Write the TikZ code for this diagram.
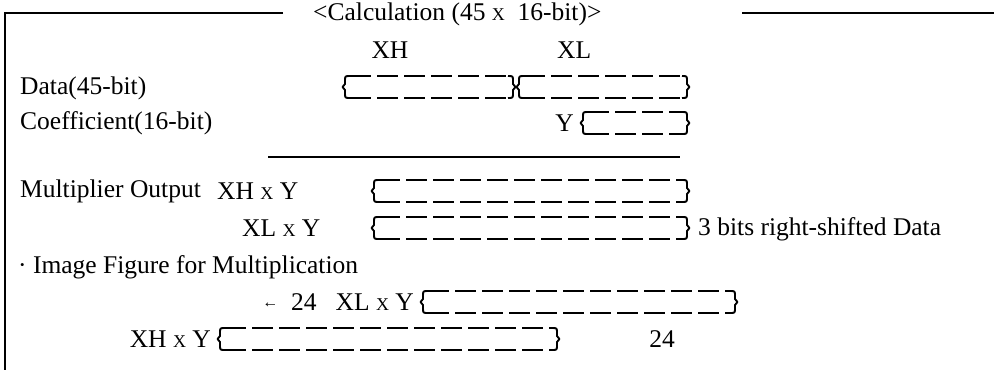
\documentclass[tikz,border=0pt]{standalone}
\usepackage{fontspec}
\setmainfont{Liberation Serif}

\begin{document}
\begin{tikzpicture}[
  x=1pt, y=-1pt,
  bitline/.style={line width=1.9pt, dash pattern=on 21pt off 6pt},
  bitend/.style={line width=1.9pt, line join=round},
  rule/.style={line width=1.4pt},
  frame/.style={line width=2.4pt},
  every node/.style={font=\fontsize{25.5}{28}\selectfont, inner sep=0pt}
]
\useasboundingbox (0,0) rectangle (994,370);

% Parameters
\def\hb{11}   % half height of a bit box
\def\tms{{\fontsize{18}{18}\selectfont X}}
% bit box: left x, right x, centre y
\def\bitbox#1#2#3{%
  \draw[bitline] (#1+6,#3-\hb) -- (#2-6,#3-\hb);
  \draw[bitline] (#1+6,#3+\hb) -- (#2-6,#3+\hb);
  \draw[bitend] (#1+6,#3-\hb) .. controls (#1+1,#3-\hb) .. (#1+1,#3-\hb+5)
    -- (#1+1,#3-3) -- (#1-1.5,#3) -- (#1+1,#3+3) -- (#1+1,#3+\hb-5)
    .. controls (#1+1,#3+\hb) .. (#1+6,#3+\hb);
  \draw[bitend] (#2-6,#3-\hb) .. controls (#2-1,#3-\hb) .. (#2-1,#3-\hb+5)
    -- (#2-1,#3-3) -- (#2+1.5,#3) -- (#2-1,#3+3) -- (#2-1,#3+\hb-5)
    .. controls (#2-1,#3+\hb) .. (#2-6,#3+\hb);
}

% ==========================================================
% Frame and title
% ==========================================================
\node[anchor=west] (title) at (313,14) {<Calculation (45 \tms\ \ 16-bit)>};
\coordinate (frameL) at (283,13);
\coordinate (frameR) at (742,13);
\draw[frame] (frameL) -- (5,13) -- (5,370);
\draw[frame] (frameR) -- (994,13);

% ==========================================================
% Data and coefficient
% ==========================================================
\node (lblXH) at (390,50) {XH};
\node[anchor=west] (lblXL) at (557,50) {XL};

\node[anchor=west] (dataTxt) at (20,88) {Data(45-bit)};
\bitbox{344}{514}{87}
\bitbox{518}{688}{87}

\node[anchor=west] (coefTxt) at (20,123) {Coefficient(16-bit)};
\node[anchor=east] (lblY) at (574,123) {Y};
\bitbox{582}{688}{123}

\coordinate (ruleL) at (268,157);
\coordinate (ruleR) at (680,157);
\draw[rule] (ruleL) -- (ruleR);

% ==========================================================
% Multiplier output
% ==========================================================
\node[anchor=west] (multTxt) at (20,191) {Multiplier Output};
\node[anchor=west] (xhyTxt) at (217,191) {XH \tms\ Y};
\bitbox{373}{688}{191}

\node[anchor=west] (xlyTxt) at (242,228) {XL \tms\ Y};
\bitbox{373}{688}{228}
\node[anchor=west] (shiftTxt) at (698,229) {3 bits right-shifted Data};

% ==========================================================
% Image figure
% ==========================================================
\node[anchor=west] (imgTxt) at (18,267) {· Image Figure for Multiplication};
\node[anchor=east] (xly2Txt) at (414,302)
  {\raisebox{3pt}{\fontsize{16}{16}\selectfont ←}\ \ 24\ \ \ XL \tms\ Y};
\bitbox{422}{736}{302}

\node[anchor=east] (xhy2Txt) at (211,339) {XH \tms\ Y};
\bitbox{219}{558}{339}
\node (num24) at (662,339) {24};

\end{tikzpicture}
\end{document}
